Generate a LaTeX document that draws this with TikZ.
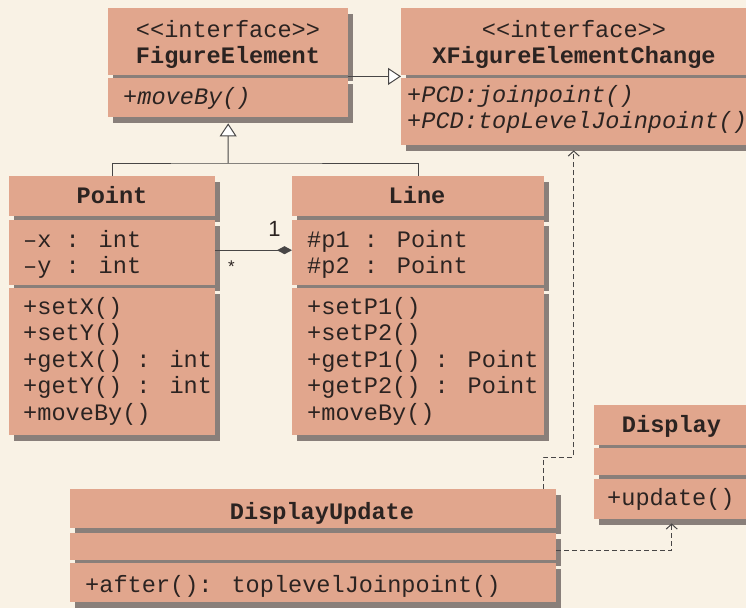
\documentclass[tikz,border=0pt]{standalone}
\usepackage{fontspec}
\usetikzlibrary{shadows,arrows.meta,calc}
\newfontfamily\umlmono{Liberation Mono}
\newfontfamily\umlsans{Liberation Sans}
\definecolor{bgc}{RGB}{249,242,229}
\definecolor{boxc}{RGB}{225,166,141}
\definecolor{shadc}{RGB}{137,127,122}
\definecolor{textc}{RGB}{43,35,33}
\definecolor{linec}{RGB}{72,70,70}
\newcommand\umlleft[1]{\vtop{\halign{##\hfil\cr#1\crcr}}}
\newcommand\umlcenter[1]{\vtop{\halign{\hfil##\hfil\cr#1\crcr}}}
\begin{document}
\begin{tikzpicture}[x=1pt,y=-1pt,
  comp/.style={fill=boxc, draw=none, anchor=north west, inner sep=0pt,
    drop shadow={shadow xshift=5pt,shadow yshift=-6pt,fill=shadc,opacity=1}},
  txt/.style={font=\umlmono\fontsize{23.6}{26.5}\selectfont, inner sep=0pt, text=textc},
  ltxt/.style={txt, anchor=base west},
  ctxt/.style={txt, anchor=base},
  conn/.style={draw=linec, line width=1pt},
  inh/.style={conn, -{Triangle[length=13pt,width=17pt,fill=white]}},
  dep/.style={conn, dash pattern=on 5pt off 3pt, -{Straight Barb[length=5pt,width=11pt]}},
  assoc/.style={conn, -{Diamond[length=15pt,width=8pt]}},
  mult/.style={inner sep=0pt, text=textc, anchor=base}
]
\useasboundingbox (0,0) rectangle (746,608);
\fill[bgc] (0,0) rectangle (746,608);

% FigureElement
\node[comp, minimum width=240, minimum height=67] (feh) at (108,8) {};
\node[comp, minimum width=240, minimum height=39] (feo) at (108,78) {};
\node[ctxt] (feh-t) at (228,37) {\umlcenter{<<interface>>\cr\textbf{FigureElement}}};
\node[ltxt] (feo-t) at (123,104) {\textit{+moveBy()}};

% XFigureElementChange
\node[comp, minimum width=345, minimum height=67] (xfh) at (401,8) {};
\node[comp, minimum width=345, minimum height=67] (xfo) at (401,78) {};
\node[ctxt] (xfh-t) at (574,37) {\umlcenter{<<interface>>\cr\textbf{XFigureElementChange}}};
\node[ltxt] (xfo-t) at (407,102) {\umlleft{\textit{+PCD:joinpoint()}\cr\textit{+PCD:topLevelJoinpoint()}}};

% Point
\node[comp, minimum width=206, minimum height=40] (pth) at (9,176) {};
\node[comp, minimum width=206, minimum height=65] (pta) at (9,220) {};
\node[comp, minimum width=206, minimum height=147] (pto) at (9,288) {};
\node[ctxt] (pth-t) at (112,203) {\textbf{Point}};
\node[ltxt] (pta-t) at (23,247) {\umlleft{–x : int\cr –y : int}};
\node[ltxt] (pto-t) at (23,314) {\umlleft{+setX()\cr +setY()\cr +getX() : int\cr +getY() : int\cr +moveBy()}};

% Line
\node[comp, minimum width=252, minimum height=40] (lnh) at (292,176) {};
\node[comp, minimum width=252, minimum height=65] (lna) at (292,220) {};
\node[comp, minimum width=252, minimum height=147] (lno) at (292,288) {};
\node[ctxt] (lnh-t) at (417,203) {\textbf{Line}};
\node[ltxt] (lna-t) at (307,247) {\umlleft{\#p1 : Point\cr \#p2 : Point}};
\node[ltxt] (lno-t) at (307,314) {\umlleft{+setP1()\cr +setP2()\cr +getP1() : Point\cr +getP2() : Point\cr +moveBy()}};

% Display
\node[comp, minimum width=155, minimum height=40] (dph) at (594,405) {};
\node[comp, minimum width=155, minimum height=27] (dpa) at (594,448) {};
\node[comp, minimum width=155, minimum height=40] (dpo) at (594,479) {};
\node[ctxt] (dph-t) at (671.5,432) {\textbf{Display}};
\node[ltxt] (dpo-t) at (607,505) {+update()};

% DisplayUpdate
\node[comp, minimum width=486, minimum height=39] (duh) at (70,489) {};
\node[comp, minimum width=486, minimum height=27] (dua) at (70,533) {};
\node[comp, minimum width=486, minimum height=39] (duo) at (70,563) {};
\node[ctxt] (duh-t) at (322,519) {\textbf{DisplayUpdate}};
\node[ltxt] (duo-t) at (85,592) {+after(): toplevelJoinpoint()};

% connectors
\draw[inh] ($(feh.south east)+(0,1)$) -- ($(xfh.south west)+(0,1)$);
\coordinate (gj) at (228,163);
\draw[conn] (pth.north) |- (gj) -| (lnh.north);
\draw[inh] (gj) -- ($(feo.south)+(0,6)$);
\draw[assoc] ($(pta.east)+(0,-2.5)$) -- ($(lna.west)+(0,-2.5)$);
\node[mult, font=\umlsans\fontsize{22}{24}\selectfont] (m-one) at (274.5,236) {1};
\node[mult, font=\umlsans\fontsize{17}{20}\selectfont] (m-star) at (231.5,272.5) {*};
\draw[dep] ($(duh.north east)+(-13,0)$) -- ++(0,-32) -| ($(xfo.south)+(0,5)$);
\draw[dep] ($(dua.east)+(0,3.5)$) -| ($(dpo.south)+(0,4)$);
\end{tikzpicture}
\end{document}
